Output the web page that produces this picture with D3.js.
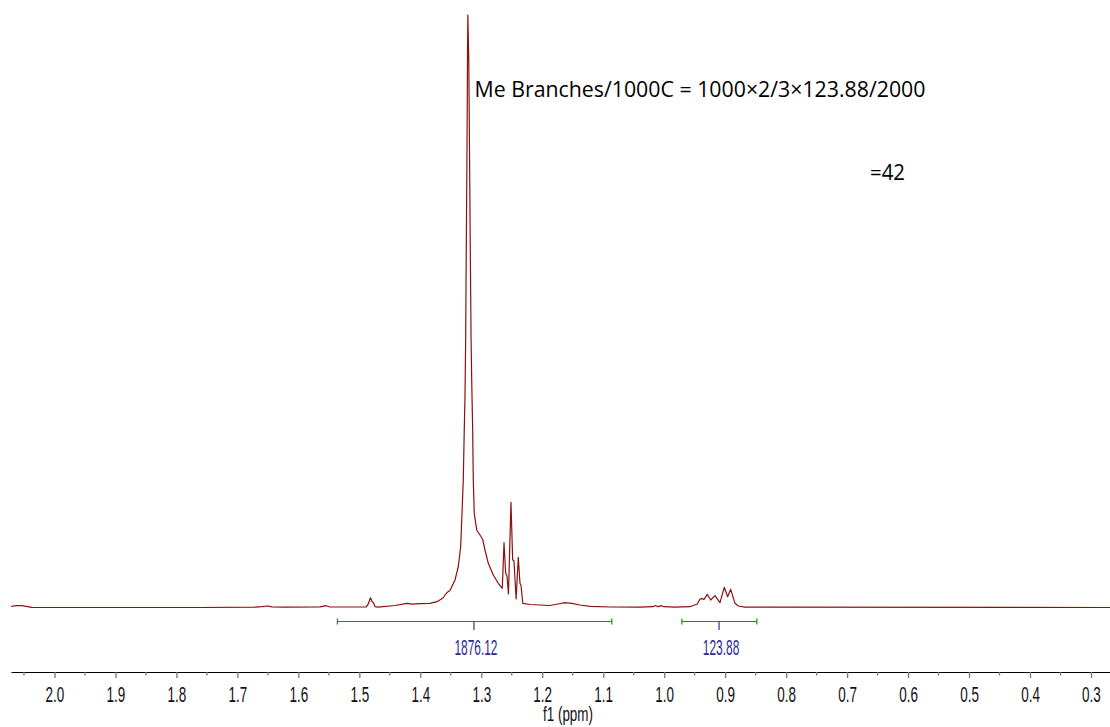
<!DOCTYPE html>
<html>
<head>
<meta charset="utf-8">
<script src="https://cdn.jsdelivr.net/npm/d3@7"></script>
<style>
  body { margin: 0; background: #fff; }
  svg { display: block; }
</style>
</head>
<body>
<script>
// spectrum (ppm, intensity)
var ppm = [2.0713, 2.0631, 2.0533, 2.0467, 2.0369, 1.991, 1.7614, 1.6711, 1.6597, 1.6499,
  1.6433, 1.622, 1.5645, 1.5547, 1.5481, 1.4891, 1.4858, 1.4817, 1.4793, 1.4768,
  1.4743, 1.4694, 1.4415, 1.4218, 1.4136, 1.4005, 1.3841, 1.3726, 1.3628, 1.3562,
  1.3513, 1.3431, 1.3377, 1.3338, 1.3316, 1.3295, 1.3279, 1.3267, 1.3256, 1.3246,
  1.3234, 1.3226, 1.3220, 1.3205, 1.3193, 1.3180, 1.3167, 1.3157, 1.3141, 1.3131,
  1.3115, 1.3075, 1.3021, 1.2977, 1.2939, 1.2885, 1.2803, 1.2721, 1.2655, 1.2627,
  1.2600, 1.2578, 1.2554, 1.2513, 1.2485, 1.2464, 1.2428, 1.2393, 1.2365, 1.2349,
  1.2319, 1.2201, 1.1873, 1.1742, 1.1627, 1.1512, 1.1381, 1.1217, 1.0889, 1.0397,
  1.0184, 1.0143, 1.0102, 1.0044, 1.0003, 0.9823, 0.9577, 0.9457, 0.9413, 0.9385,
  0.9347, 0.9293, 0.9237, 0.9167, 0.9085, 0.9014, 0.8959, 0.8909, 0.8839, 0.8785,
  0.8675, 0.2688];
var intensity = [1.0, 1.8, 1.8, 1.2, 0.2, 0, 0, 0.3, 0.8, 1.5,
  0.6, 0.4, 0.6, 1.8, 0.5, 0.5, 3, 9.8, 6, 4.8,
  0.8, 0.3, 2, 4.2, 3.3, 3.8, 4.2, 5.8, 9.5, 15,
  17, 27.5, 40.8, 60.8, 94.2, 127.5, 177.5, 210.8, 267.5, 357.5,
  457.5, 547.5, 592.5, 547.5, 457.5, 357.5, 267.5, 227.5, 177.5, 127.5,
  94.2, 77.5, 72.5, 68.2, 57.5, 44.2, 32.5, 24.2, 19.2, 64.8,
  34.2, 31.5, 13.5, 105.2, 47.5, 46.8, 8.5, 50.2, 24.2, 22.5,
  4.2, 3, 2, 3.5, 4.8, 4.2, 2.5, 1.2, 0.5, 0.3,
  0.8, 2, 0.8, 1.8, 0.8, 0.3, 0.8, 3.5, 8.5, 8.8,
  8.2, 13.2, 7.5, 11.8, 4.8, 20.2, 10.8, 18.2, 4.2, 1.5,
  0.3, 0];

// integrals
var integFrom = [1.536, 0.971];
var integTo = [1.086, 0.848];
var integMark = [1.312, 0.910];
var integValue = ["1876.12", "123.88"];

var majorTicks = [2.0, 1.9, 1.8, 1.7, 1.6, 1.5, 1.4, 1.3, 1.2, 1.1, 1.0, 0.9, 0.8, 0.7, 0.6, 0.5, 0.4, 0.3];
var minorTicks = [2.05, 1.95, 1.85, 1.75, 1.65, 1.55, 1.45, 1.35, 1.25, 1.15, 1.05, 0.95, 0.85, 0.75, 0.65, 0.55, 0.45, 0.35];

var width = 1110, height = 727;
var narrowFont = "'Liberation Sans', Arial, sans-serif";

var svg = d3.select("body").append("svg")
  .attr("width", width)
  .attr("height", height);

var x = d3.scaleLinear()
  .domain([2.0713, 0.2688])
  .range([11, 1110]);

var y = d3.scaleLinear()
  .domain([0, 592.5])
  .range([607.5, 15]);

var rows = ppm.map((p, i) => ({ppm: p, value: intensity[i]}));

// spectrum
var line = d3.line()
  .x(d => x(d.ppm))
  .y(d => y(d.value));

svg.append("path")
  .datum(rows)
  .attr("d", line)
  .attr("fill", "none")
  .attr("stroke", "#8b1010")
  .attr("stroke-width", 1.2)
  .attr("stroke-linejoin", "round");

// integration bars
var integY = 621.5;
var ig = svg.append("g").selectAll("g")
  .data(integFrom)
  .enter()
  .append("g");

ig.append("line")
  .attr("x1", (d) => x(d))
  .attr("x2", (d, i) => x(integTo[i]))
  .attr("y1", integY).attr("y2", integY)
  .attr("stroke", "#1f8a1f").attr("stroke-width", 1.2);

ig.append("line")
  .attr("x1", (d) => x(d)).attr("x2", (d) => x(d))
  .attr("y1", integY - 3).attr("y2", integY + 3)
  .attr("stroke", "#1f8a1f").attr("stroke-width", 1.2);

ig.append("line")
  .attr("x1", (d, i) => x(integTo[i])).attr("x2", (d, i) => x(integTo[i]))
  .attr("y1", integY - 3).attr("y2", integY + 3)
  .attr("stroke", "#1f8a1f").attr("stroke-width", 1.2);

ig.append("line")
  .attr("x1", (d, i) => x(integMark[i])).attr("x2", (d, i) => x(integMark[i]))
  .attr("y1", integY).attr("y2", integY + 8.5)
  .attr("stroke", "#3030a0").attr("stroke-width", 1.2);

ig.append("text")
  .attr("transform", (d, i) => "translate(" + (x(integMark[i]) + 2) + ",654.5) scale(0.53,1)")
  .attr("text-anchor", "middle")
  .style("font-family", narrowFont)
  .style("font-size", "22.5px")
  .style("fill", "#2a2a96")
  .text((d, i) => integValue[i]);

// axis
var axisY = 672;
var axis = svg.append("g")
  .attr("transform", "translate(0," + axisY + ")")
  .call(d3.axisBottom(x)
    .tickValues(majorTicks)
    .tickSize(6)
    .tickSizeOuter(0)
    .tickFormat(d3.format(".1f")));

axis.select(".domain").attr("stroke", "#000").attr("stroke-width", 1.2);
axis.selectAll(".tick line").attr("stroke", "#777").attr("stroke-width", 1.3);
axis.selectAll(".tick text")
  .attr("y", 0).attr("dy", 0)
  .attr("transform", "translate(0,30) scale(0.6,1)")
  .style("font-family", narrowFont)
  .style("font-size", "22.5px")
  .style("fill", "#111");

svg.append("g").selectAll("line")
  .data(minorTicks)
  .enter()
  .append("line")
  .attr("x1", d => x(d)).attr("x2", d => x(d))
  .attr("y1", axisY).attr("y2", axisY + 3.5)
  .attr("stroke", "#777").attr("stroke-width", 1.3);

svg.append("text")
  .attr("transform", "translate(568,721) scale(0.64,1)")
  .attr("text-anchor", "middle")
  .style("font-family", narrowFont)
  .style("font-size", "21px")
  .style("fill", "#111")
  .text("f1 (ppm)");

// annotation
svg.append("text")
  .attr("x", 474.5).attr("y", 96.5)
  .attr("textLength", 451).attr("lengthAdjust", "spacingAndGlyphs")
  .style("font-family", "'Open Sans', 'Noto Sans', sans-serif")
  .style("font-size", "21px")
  .style("fill", "#000")
  .text("Me Branches/1000C = 1000×2/3×123.88/2000");

svg.append("text")
  .attr("x", 870).attr("y", 179.5)
  .attr("textLength", 35).attr("lengthAdjust", "spacingAndGlyphs")
  .style("font-family", "'Open Sans', 'Noto Sans', sans-serif")
  .style("font-size", "21px")
  .style("fill", "#000")
  .text("=42");
</script>
</body>
</html>
